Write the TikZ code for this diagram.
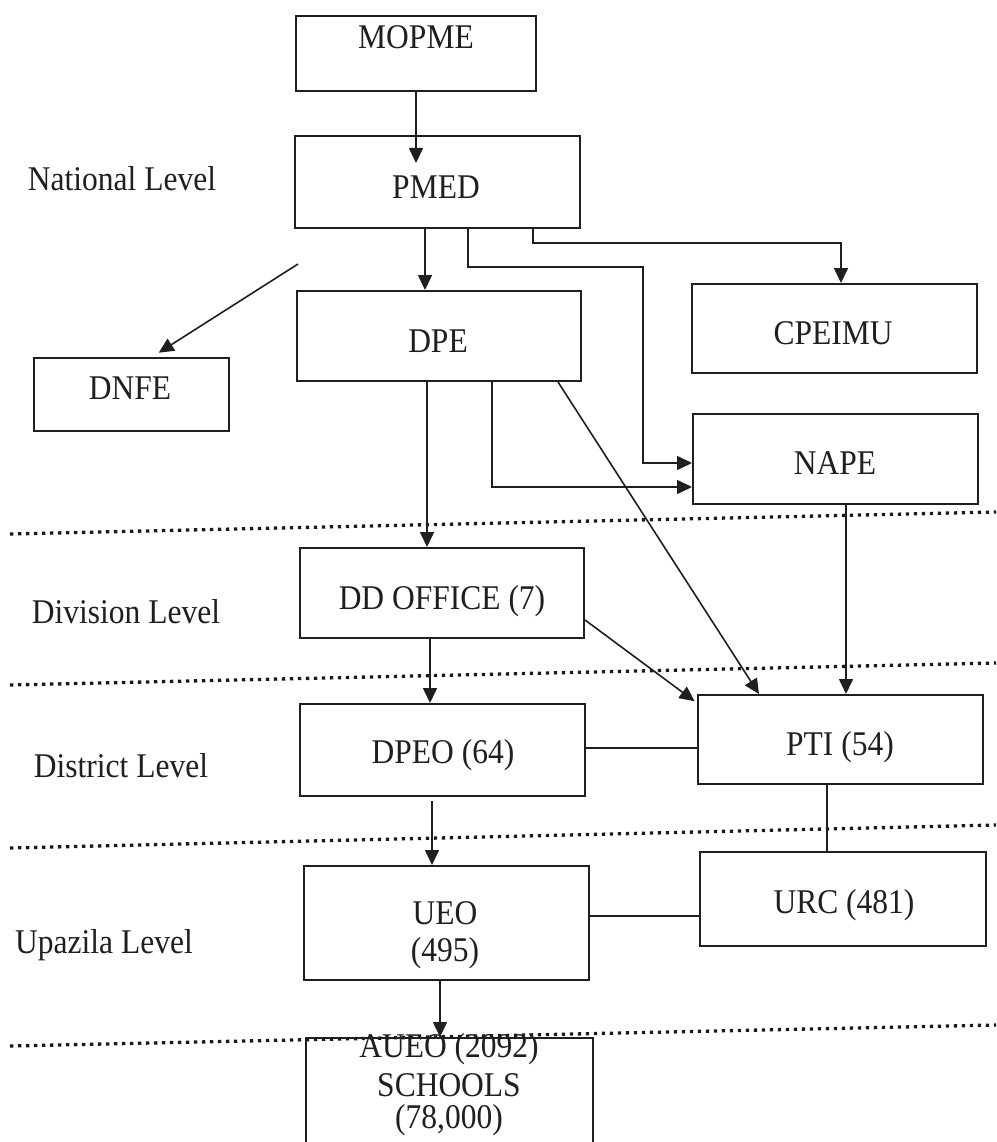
\documentclass[tikz,border=0pt]{standalone}
\usepackage{fontspec}
\setmainfont{Liberation Serif}
\usetikzlibrary{arrows.meta,calc}
\definecolor{ink}{gray}{0.12}
\newcommand\tall[1]{\scalebox{1}[1.1]{#1}}
\begin{document}
\begin{tikzpicture}[x=1pt,y=-1pt,
  box/.style={draw=ink, line width=2pt, inner sep=0pt, anchor=north west},
  txt/.style={text=ink, font=\fontsize{31.5}{36}\selectfont, anchor=base, inner sep=0pt},
  arr/.style={draw=ink, line width=1.6pt, -{Triangle[length=15pt,width=14pt]}},
  ln/.style={draw=ink, line width=1.6pt},
  sep/.style={draw=black!90, line width=3.3pt, dash pattern=on 3.3pt off 4.7pt}]
\useasboundingbox (0,0) rectangle (996,1142);
\clip (0,0) rectangle (996,1142);
\fill[white] (0,0) rectangle (996,1142);

% level separators
\draw[sep] (10,534) -- (996,512);
\draw[sep] (10,685) -- (996,663);
\draw[sep] (10,848) -- (996,825);
\draw[sep] (10,1046) -- (996,1025);

% boxes
\node[box, minimum width=240pt, minimum height=75pt] (mopme) at (295,15) {};
\node[box, minimum width=285pt, minimum height=92pt] (pmed) at (294,135) {};
\node[box, minimum width=284pt, minimum height=90pt] (dpe) at (296,290) {};
\node[box, minimum width=285pt, minimum height=89pt] (cpeimu) at (691,283) {};
\node[box, minimum width=195pt, minimum height=73pt] (dnfe) at (33,357) {};
\node[box, minimum width=285pt, minimum height=90pt] (nape) at (692,413) {};
\node[box, minimum width=284pt, minimum height=90pt] (dd) at (299,547) {};
\node[box, minimum width=285pt, minimum height=92pt] (dpeo) at (299,703) {};
\node[box, minimum width=285pt, minimum height=89pt] (pti) at (697,694) {};
\node[box, minimum width=285pt, minimum height=114pt] (ueo) at (303,865) {};
\node[box, minimum width=286pt, minimum height=94pt] (urc) at (699,851) {};
\node[box, minimum width=287pt, minimum height=130pt] (aueo) at (305,1037) {};

% texts
\node[txt] (t-mopme) at (416,49) {\tall{MOPME}};
\node[txt] (t-nat) at (122,190) {\tall{National Level}};
\node[txt] (t-pmed) at (436,198) {\tall{PMED}};
\node[txt] (t-dpe) at (438,352) {\tall{DPE}};
\node[txt] (t-cpeimu) at (833,344) {\tall{CPEIMU}};
\node[txt] (t-dnfe) at (130,399) {\tall{DNFE}};
\node[txt] (t-nape) at (835,474) {\tall{NAPE}};
\node[txt] (t-dd) at (442,609) {\tall{DD OFFICE (7)}};
\node[txt] (t-div) at (126,623) {\tall{Division Level}};
\node[txt] (t-dpeo) at (443,763) {\tall{DPEO (64)}};
\node[txt] (t-pti) at (840,755) {\tall{PTI (54)}};
\node[txt] (t-dist) at (121,777) {\tall{District Level}};
\node[txt] (t-ueo1) at (445,924) {\tall{UEO}};
\node[txt] (t-ueo2) at (445,961) {\tall{(495)}};
\node[txt] (t-urc) at (844,913) {\tall{URC (481)}};
\node[txt] (t-upa) at (104,953) {\tall{Upazila Level}};
\node[txt] (t-aueo1) at (449,1057) {\tall{AUEO (2092)}};
\node[txt] (t-aueo2) at (449,1096) {\tall{SCHOOLS}};
\node[txt] (t-aueo3) at (449,1128) {\tall{(78,000)}};

% connectors
\coordinate (pmedin) at (416,163);
\draw[arr] (mopme.south -| pmedin) -- (pmedin);
\draw[arr] (pmed.south -| 425,0) -- (dpe.north -| 425,0);
\draw[arr] (pmed.south -| 468,0) |- (643,267) |- (nape.west |- 0,463);
\draw[arr] (pmed.south -| 533,0) |- (841,243) -- (cpeimu.north -| 841,0);
\coordinate (dnfefrom) at (298,264);
\draw[arr, shorten >=8pt] (dnfefrom) -- (dnfe.north -| 152,0);
\draw[arr] (dpe.south -| 427,0) -- (dd.north -| 427,0);
\draw[arr] (dpe.south -| 492,0) |- (nape.west |- 0,487);
\draw[arr] (dpe.south -| 558,0) -- (pti.north -| 759,0);
\draw[arr] (nape.south -| 846,0) -- (pti.north -| 846,0);
\draw[arr, shorten >=3pt] (dd.east |- 0,620) -- (pti.west |- 0,703);
\draw[arr] (dd.south -| 430,0) -- (dpeo.north -| 430,0);
\draw[ln] (dpeo.east |- 0,748) -- (pti.west |- 0,748);
\draw[arr, shorten <=4pt] (dpeo.south -| 432,0) -- (ueo.north -| 432,0);
\draw[ln] (pti.south -| 827,0) -- (urc.north -| 827,0);
\draw[ln] (ueo.east |- 0,916) -- (urc.west |- 0,916);
\draw[arr] (ueo.south -| 440,0) -- (aueo.north -| 440,0);
\end{tikzpicture}
\end{document}
